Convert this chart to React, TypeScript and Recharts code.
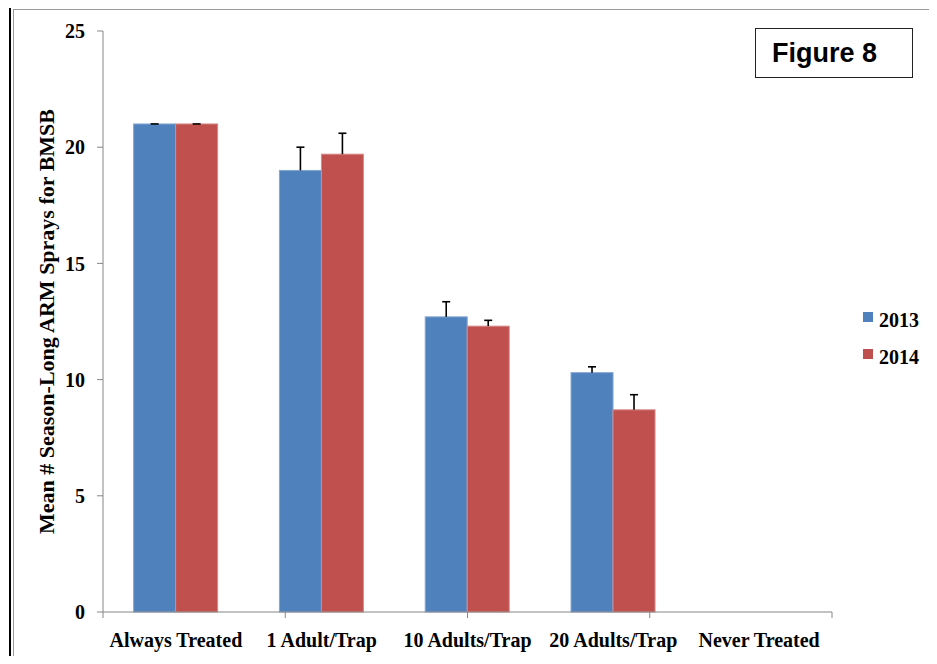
import { BarChart, Bar, XAxis, YAxis, Legend } from 'recharts';

const categories = ['Always Treated', '1 Adult/Trap', '10 Adults/Trap', '20 Adults/Trap', 'Never Treated'];
const sprays2013 = [21, 19.0, 12.7, 10.3, 0];
const sprays2014 = [21, 19.7, 12.3, 8.7, 0];
const err2013 = [0, 1.0, 0.65, 0.25, 0];
const err2014 = [0, 0.9, 0.25, 0.65, 0];
const yTicks = [0, 5, 10, 15, 20, 25];
const edgeTicks = [0, 1, 2, 3, 4, 5];

const data = categories.map((name, i) => ({
  name,
  y2013: sprays2013[i],
  y2014: sprays2014[i],
  e2013: err2013[i],
  e2014: err2014[i],
}));

const SERIF = '"Liberation Serif", "Times New Roman", serif';
const SANS = '"Liberation Sans", Arial, sans-serif';
const AXIS = '#868686';

// bar plus an upward-only error whisker, scaled from the bar's own pixel height
function barWithError(valueKey: string, errKey: string, edge: string) {
  return (props: any) => {
    const { x, y, width, height, fill, payload } = props;
    const v = payload[valueKey];
    if (!v) return <g />;
    const errPx = (payload[errKey] * height) / v;
    const cx = x + width / 2;
    const top = y - errPx;
    return (
      <g>
        <rect x={x} y={y} width={width} height={height} fill={fill} stroke={edge} strokeWidth={1} />
        <line x1={cx} y1={y} x2={cx} y2={top} stroke="#000" strokeWidth={1.6} />
        <line x1={cx - 4} y1={top} x2={cx + 4} y2={top} stroke="#000" strokeWidth={1.6} />
      </g>
    );
  };
}

const renderLegend = (props: any) => (
  <div>
    {(props.payload || []).map((entry: any) => (
      <div
        key={entry.value}
        style={{
          display: 'flex',
          alignItems: 'center',
          height: 37,
          fontFamily: SERIF,
          fontSize: 20,
          fontWeight: 'bold',
          color: '#000',
        }}
      >
        <span
          style={{
            display: 'inline-block',
            width: 10,
            height: 10,
            background: entry.color,
            marginRight: 6,
            position: 'relative',
            top: -4,
          }}
        />
        {entry.value}
      </div>
    ))}
  </div>
);

export default function App() {
  return (
    <div style={{ position: 'relative', width: 937, height: 664, margin: -8, overflow: 'hidden', background: '#fff' }}>
      <div
        style={{
          position: 'absolute',
          left: 9,
          top: 4,
          width: 2000,
          height: 2000,
          borderLeft: '2px solid #000',
          borderTop: '2px solid #000',
        }}
      />
      <div
        style={{
          position: 'absolute',
          left: 13,
          top: 9,
          width: 2000,
          height: 655,
          boxSizing: 'border-box',
          border: '1px solid #9a9a9a',
        }}
      />
      <div style={{ position: 'absolute', left: 0, top: 0 }}>
        <BarChart
          width={937}
          height={664}
          data={data}
          margin={{ top: 31, right: 105, left: 30, bottom: 0 }}
          barCategoryGap="21%"
          barGap={0}
        >
          {/* axis line with tick marks between the categories */}
          <XAxis
            xAxisId={0}
            type="number"
            domain={[0, 5]}
            ticks={edgeTicks}
            allowDataOverflow
            height={7}
            tickSize={6}
            tickFormatter={() => ''}
            stroke={AXIS}
          />
          <XAxis
            xAxisId={1}
            dataKey="name"
            height={45}
            axisLine={false}
            tickLine={false}
            tickSize={0}
            tickMargin={14}
            interval={0}
            tick={{ fill: '#000', fontSize: 20, fontWeight: 'bold', fontFamily: SERIF }}
          />
          <YAxis
            width={73}
            domain={[0, 25]}
            ticks={yTicks}
            tickSize={6}
            tickMargin={12}
            stroke={AXIS}
            tick={{ fill: '#000', fontSize: 20, fontWeight: 'bold', fontFamily: SERIF }}
            label={{
              value: 'Mean # Season-Long ARM Sprays for BMSB',
              angle: -90,
              position: 'center',
              dx: -20,
              style: { fill: '#000', fontSize: 22, fontWeight: 'bold', fontFamily: SERIF },
            }}
          />
          <Legend
            align="center"
            verticalAlign="middle"
            layout="vertical"
            content={renderLegend}
            wrapperStyle={{ left: 863, top: 302, width: 80 }}
          />
          <Bar
            xAxisId={1}
            dataKey="y2013"
            name="2013"
            fill="#4F81BD"
            shape={barWithError('y2013', 'e2013', '#86A6D3')}
            isAnimationActive={false}
          />
          <Bar
            xAxisId={1}
            dataKey="y2014"
            name="2014"
            fill="#C0504D"
            shape={barWithError('y2014', 'e2014', '#D68A88')}
            isAnimationActive={false}
          />
        </BarChart>
      </div>
      <div
        style={{
          position: 'absolute',
          left: 755,
          top: 28,
          width: 158,
          height: 50,
          boxSizing: 'border-box',
          border: '1px solid #222',
          display: 'flex',
          alignItems: 'center',
          paddingLeft: 16,
          fontFamily: SANS,
          fontSize: 27,
          fontWeight: 'bold',
          color: '#000',
        }}
      >
        Figure 8
      </div>
    </div>
  );
}
